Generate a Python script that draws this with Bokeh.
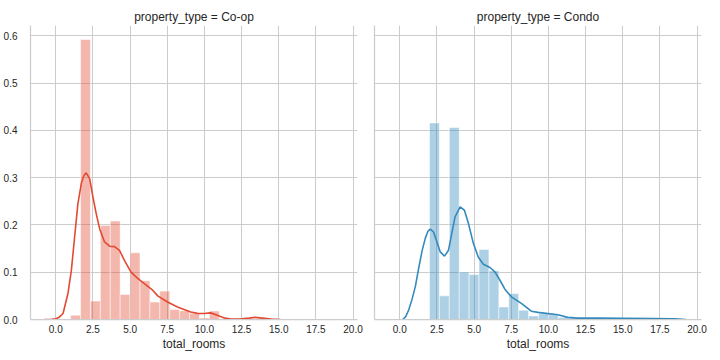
from bokeh.plotting import figure
from bokeh.layouts import row
from bokeh.models import FixedTicker, Range1d
from bokeh.embed import file_html
from bokeh.resources import INLINE

# ---------------- data ----------------
panel_titles = ["property_type = Co-op", "property_type = Condo"]
x_label = "total_rooms"

x_ticks = [0.0, 2.5, 5.0, 7.5, 10.0, 12.5, 15.0, 17.5, 20.0]
x_tick_labels = ["0.0", "2.5", "5.0", "7.5", "10.0", "12.5", "15.0", "17.5", "20.0"]
y_ticks = [0.0, 0.1, 0.2, 0.3, 0.4, 0.5, 0.6]
y_tick_labels = ["0.0", "0.1", "0.2", "0.3", "0.4", "0.5", "0.6"]

# Co-op histogram (density)
coop_edges = [1.0, 1.667, 2.333, 3.0, 3.667, 4.333, 5.0, 5.667, 6.333, 7.0,
              7.667, 8.333, 9.0, 9.667, 10.333, 11.0]
coop_density = [0.009, 0.592, 0.039, 0.199, 0.208, 0.053, 0.141, 0.082, 0.037,
                0.060, 0.021, 0.0185, 0.013, 0.003, 0.018]

# Co-op KDE curve
coop_kde_x = [-0.75, -0.3, 0.0, 0.2, 0.49, 0.82, 1.05, 1.27, 1.49, 1.72, 1.9, 2.05,
              2.28, 2.5, 2.72, 2.95, 3.28, 3.62, 3.95, 4.29, 4.62, 5.06, 5.51, 5.96,
              6.52, 6.86, 7.52, 8.19, 9.08, 9.54, 9.98, 10.42, 10.87, 11.3, 11.76,
              12.5, 13.0, 13.4, 13.9, 14.5, 15.1]
coop_kde_y = [0.0, 0.0005, 0.0015, 0.004, 0.0127, 0.055, 0.104, 0.175, 0.245, 0.288,
              0.305, 0.310, 0.298, 0.259, 0.224, 0.192, 0.164, 0.155, 0.154, 0.146,
              0.125, 0.100, 0.087, 0.076, 0.062, 0.050, 0.037, 0.0266, 0.016, 0.013,
              0.0127, 0.014, 0.009, 0.0035, 0.001, 0.0015, 0.003, 0.0045, 0.003,
              0.001, 0.0]

# Condo histogram (density)
condo_edges = [2.0, 2.667, 3.333, 4.0, 4.667, 5.333, 6.0, 6.667, 7.333, 8.0, 8.667,
               9.333, 10.0, 10.667, 11.333, 12.0, 12.667, 13.333, 14.0, 14.667,
               15.333, 16.0, 16.667, 17.333, 18.0, 18.667]
condo_density = [0.4157, 0.050, 0.406, 0.1006, 0.095, 0.148, 0.103, 0.0266, 0.055,
                 0.0197, 0.0076, 0.012, 0.010, 0.004, 0.003, 0.003, 0.002, 0.003,
                 0.002, 0.002, 0.001, 0.002, 0.001, 0.001, 0.0, 0.001]

# Condo KDE curve
condo_kde_x = [0.2, 0.4, 0.6, 0.82, 1.05, 1.27, 1.5, 1.72, 1.9, 2.05, 2.27, 2.5, 2.72,
               3.01, 3.28, 3.5, 3.72, 4.06, 4.35, 4.62, 4.95, 5.28, 5.62, 6.07, 6.4,
               6.74, 7.07, 7.51, 8.18, 8.85, 9.3, 9.97, 10.64, 11.3, 12.0, 13.3,
               15.0, 17.0, 18.5, 19.25]
condo_kde_y = [0.0, 0.006, 0.02, 0.042, 0.07, 0.108, 0.145, 0.172, 0.187, 0.191,
               0.185, 0.164, 0.143, 0.134, 0.1465, 0.182, 0.217, 0.238, 0.231, 0.203,
               0.161, 0.132, 0.117, 0.110, 0.1007, 0.083, 0.064, 0.048, 0.034, 0.0175,
               0.015, 0.0125, 0.010, 0.0045, 0.003, 0.003, 0.0025, 0.002, 0.0015, 0.0]

colors = ["#E24A33", "#348ABD"]

FONT = "Liberation Sans"
TEXT = "#262626"
GRID = "#cccccc"


def make_panel(title, edges, dens, kx, ky, color, first):
    p = figure(frame_width=327, frame_height=294,
               x_range=Range1d(-1.7, 20.3), y_range=Range1d(0, 0.6216),
               output_backend="svg", toolbar_location=None,
               min_border_left=24 if first else 8, min_border_right=9,
               min_border_top=25, min_border_bottom=0,
               title=title)
    p.outline_line_color = None
    p.background_fill_color = "white"
    p.border_fill_color = "white"

    p.title.align = "center"
    p.title.text_font = FONT
    p.title.text_font_size = "12px"
    p.title.text_font_style = "normal"
    p.title.text_color = TEXT
    p.title.standoff = 4

    p.quad(left=edges[:-1], right=edges[1:], bottom=0, top=dens,
           fill_color=color, fill_alpha=0.4,
           line_color="white", line_alpha=0.5, line_width=1)
    p.line(kx, ky, line_color=color, line_width=1.6)

    p.xgrid.ticker = FixedTicker(ticks=x_ticks)
    p.ygrid.ticker = FixedTicker(ticks=y_ticks)
    for g in (p.xgrid, p.ygrid):
        g.grid_line_color = GRID
        g.grid_line_width = 1

    p.xaxis.ticker = FixedTicker(ticks=x_ticks)
    p.xaxis.major_label_overrides = dict(zip(x_ticks, x_tick_labels))
    if first:
        p.yaxis.ticker = FixedTicker(ticks=y_ticks)
        p.yaxis.major_label_overrides = dict(zip(y_ticks, y_tick_labels))
    else:
        # shared y axis: the right panel shows no y tick labels
        p.yaxis.ticker = FixedTicker(ticks=[])
        p.yaxis.major_label_standoff = 0

    for ax in (p.xaxis, p.yaxis):
        ax.axis_line_color = GRID
        ax.axis_line_width = 1.25
        ax.major_tick_line_color = None
        ax.minor_tick_line_color = None
        ax.major_label_text_font = FONT
        ax.major_label_text_font_size = "10px"
        ax.major_label_text_color = TEXT

    p.xaxis.major_label_standoff = -1
    if first:
        p.yaxis.major_label_standoff = 7

    p.xaxis.axis_label = x_label
    p.xaxis.axis_label_text_font = FONT
    p.xaxis.axis_label_text_font_size = "12px"
    p.xaxis.axis_label_text_font_style = "normal"
    p.xaxis.axis_label_text_color = TEXT
    p.xaxis.axis_label_standoff = 1
    return p


p1 = make_panel(panel_titles[0], coop_edges, coop_density, coop_kde_x, coop_kde_y,
                colors[0], True)
p2 = make_panel(panel_titles[1], condo_edges, condo_density, condo_kde_x, condo_kde_y,
                colors[1], False)

layout = row(p1, p2, spacing=0)

with open("out.html", "w") as f:
    f.write(file_html(layout, INLINE))
